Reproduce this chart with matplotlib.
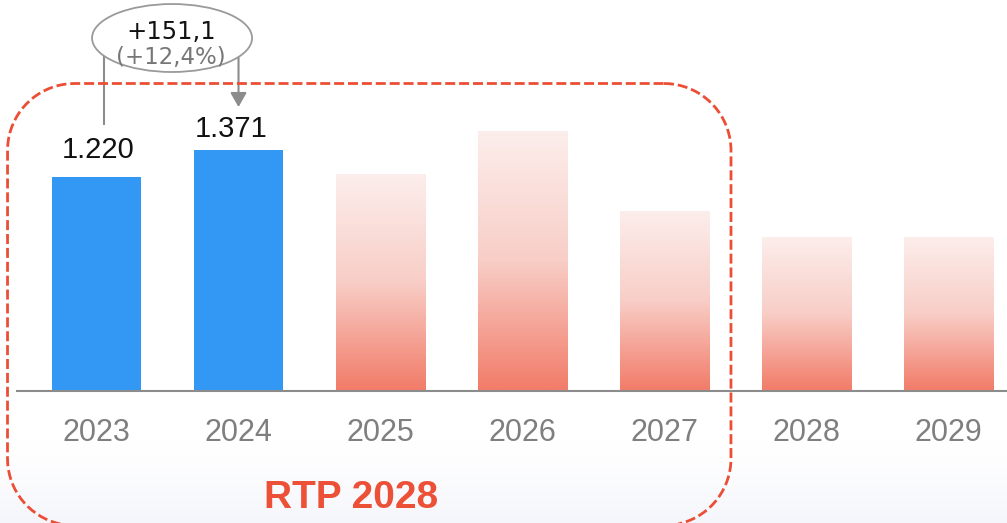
import numpy as np
import matplotlib
matplotlib.use("Agg")
import matplotlib.pyplot as plt
from matplotlib.patches import Ellipse, FancyArrowPatch
from matplotlib.colors import LinearSegmentedColormap, to_rgb

plt.rcParams["font.family"] = ["Liberation Sans", "DejaVu Sans"]

# ---- data -------------------------------------------------------------
years = ["2023", "2024", "2025", "2026", "2027", "2028", "2029"]
actual = [1219.9, 1371.0]                 # reported values
forecast = [1236, 1481, 1025, 876, 876]   # projected values 2025-2029
delta_abs = actual[1] - actual[0]
delta_pct = delta_abs / actual[0] * 100

W, H = 1007, 523
fig = plt.figure(figsize=(W / 100, H / 100), dpi=100)

# ---- soft background tint towards the bottom ---------------------------
bg = fig.add_axes([0, 0, 1, 1], zorder=0)
bg.axis("off")
rows = np.arange(H)
t = np.clip((rows - 440) / (H - 440), 0, 1) ** 1.3
tint = np.array(to_rgb("#F5F6FC"))
img = (1 - t)[:, None] * np.ones(3) + t[:, None] * tint
bg.imshow(img[:, None, :].repeat(4, axis=1), extent=(0, W, H, 0), aspect="auto")
bg.set_xlim(0, W)
bg.set_ylim(H, 0)

# ---- main bar axes ------------------------------------------------------
base_px = 390.5
ax = fig.add_axes([17 / W, (H - base_px) / H, (W - 17) / W, base_px / H], zorder=1)
ax.patch.set_alpha(0)
x = np.arange(len(years))
bw = 0.627

ax.bar(x[:2], actual, width=bw, color="#3398F4", zorder=2)
fbars = ax.bar(x[2:], forecast, width=bw, color="none", edgecolor="none", zorder=2)

cmap = LinearSegmentedColormap.from_list("fc", ["#FCEEEC", "#F8CEC7", "#F27C69"])
grad = np.linspace(0, 1, 256).reshape(-1, 1)
for b in fbars:
    im = ax.imshow(grad, cmap=cmap, origin="upper", aspect="auto",
                   extent=(b.get_x(), b.get_x() + b.get_width(), 0, b.get_height()),
                   zorder=2)
    im.set_clip_path(b)

ax.set_xlim(-0.56, 6.412)
ax.set_ylim(0, 2229)
for s in ("top", "left", "right"):
    ax.spines[s].set_visible(False)
ax.spines["bottom"].set_color("#8c8c8c")
ax.spines["bottom"].set_linewidth(1.5)
ax.set_yticks([])
ax.set_xticks(x, years)
ax.tick_params(axis="x", length=0, pad=20, labelsize=22, labelcolor="#7f7f7f")

# value labels on the reported bars
offsets = [(1.5, 13.5), (-5.0, 9.5)]
for i, (v, (dx, dy)) in enumerate(zip(actual, offsets)):
    ax.annotate(f"{v:,.0f}".replace(",", "."), (x[i], v), xytext=(dx, dy),
                textcoords="offset points", ha="center", va="baseline",
                fontsize=21, color="#111111")

# change bubble between 2023 and 2024
ecx, ecy = 0.532, 2012
ax.add_patch(Ellipse((ecx, ecy), 1.127, 388, facecolor="white",
                     edgecolor="#9a9a9a", lw=1.3, zorder=5))
ax.plot([x[0] + 0.053, x[0] + 0.053], [1515, ecy], color="#8c8c8c", lw=1.5,
        solid_capstyle="butt", zorder=4)
ax.add_patch(FancyArrowPatch((x[1], ecy), (x[1], 1618),
                             arrowstyle="-|>,head_length=0.43,head_width=0.245",
                             mutation_scale=20, color="#8c8c8c", lw=1.5,
                             shrinkA=0, shrinkB=0, zorder=4))
ax.text(0.523, 2005, f"+{delta_abs:.1f}".replace(".", ","), ha="center",
        va="baseline", fontsize=17.5, color="#111111", family="DejaVu Sans", zorder=6)
ax.text(0.520, 1862, f"(+{delta_pct:.1f}%)".replace(".", ","), ha="center",
        va="baseline", fontsize=16.5, color="#777777", family="DejaVu Sans", zorder=6)

# ---- plan period frame (rounded dashed outline, pixel coordinates) -----
ov = fig.add_axes([0, 0, 1, 1], zorder=3)
ov.axis("off")
ov.set_xlim(0, W)
ov.set_ylim(H, 0)


def rounded_outline(x0, y0, x1, y1, r, n=40):
    pts = []
    for cx, cy, a0 in [(x1 - r, y0 + r, -90), (x1 - r, y1 - r, 0),
                       (x0 + r, y1 - r, 90), (x0 + r, y0 + r, 180)]:
        a = np.radians(np.linspace(a0, a0 + 90, n))
        pts += list(zip(cx + r * np.cos(a), cy + r * np.sin(a)))
    pts.append(pts[0])
    return np.array(pts)


frame = rounded_outline(7.5, 83.5, 731.0, 525.5, 67)
ov.plot(frame[:, 0], frame[:, 1], color="#EC4E35", lw=2,
        linestyle=(0, (3.6, 1.4)))
ov.text(351, 508, "RTP 2028", ha="center", va="baseline", fontsize=28,
        fontweight="bold", color="#EC5036")

fig.savefig("out.png", dpi=100)
